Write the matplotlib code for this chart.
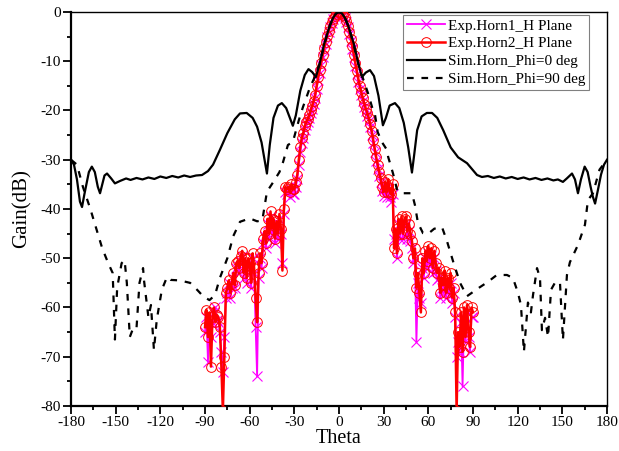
import numpy as np
import matplotlib
matplotlib.use("Agg")
import matplotlib.pyplot as plt
from matplotlib.ticker import MultipleLocator

plt.rcParams['font.family'] = ['Liberation Serif', 'DejaVu Serif']
plt.rcParams['axes.unicode_minus'] = False

# ---------------- data ----------------
exp_theta = list(range(-90, 91))

horn2_gain = [
    -64, -60.5, -66, -61, -72, -62, -60, -63, -61.5, -62,
    -64, -72, -81, -70, -57, -56, -54.5, -57, -55, -53,
    -55.5, -51, -50.5, -52, -49.5, -48.5, -53, -50, -54, -50,
    -51, -55, -49, -52, -58, -63, -53, -49, -51, -46,
    -44.5, -47, -42, -45, -40.5, -44, -42, -46, -42.5, -45,
    -41, -44, -52.5, -40, -35.5, -36, -35.5, -36.5, -35, -36,
    -36, -34.5, -33, -30, -27.5, -25.5, -24.5, -23.2, -22.3, -21.7,
    -21, -20, -19, -18, -16.8, -15, -13.2, -11.8, -10.3, -8.8,
    -7.4, -6, -4.8, -3.8, -2.9, -2.1, -1.4, -0.8, -0.4, -0.1,
    0,
    -0.1, -0.3, -0.7, -1.1, -1.8, -2.8, -4, -5.4, -7, -8.7,
    -10.4, -12, -13.6, -15, -16.3, -17.5, -18.6, -19.6, -20.5, -21.5,
    -22.8, -24.2, -26, -27.8, -29.5, -31, -32.5, -33.8, -35.5, -36.5,
    -34.5, -36.5, -34, -36.5, -37, -35, -48, -44, -49, -42,
    -45, -41.5, -45, -42, -41.5, -44.5, -43, -45, -46.5, -50,
    -48, -56, -53, -57, -61, -50, -53, -48.5, -50.5, -47.5,
    -50, -48, -52, -48.5, -51, -53, -52, -57, -54, -55.5,
    -52.5, -57, -54, -56, -53, -58, -56, -61, -81, -65,
    -68, -61, -69, -60, -66, -59.5, -65, -68, -60, -61,
]

horn1_gain = [
    -65, -62, -71, -63, -66, -63, -61, -60, -62.5, -63,
    -65, -69, -73, -66, -58, -57, -55, -58, -56, -54,
    -56, -52, -51.5, -53, -50.5, -49.5, -54, -51, -55, -51,
    -52, -56, -50, -53, -64, -74, -54, -50, -52, -47,
    -45.5, -48, -43, -46, -41.5, -45, -43, -47, -43.5, -46,
    -42, -45, -51, -41, -36.5, -37, -36.5, -37.5, -36, -37,
    -37, -35.5, -34, -31, -28.5, -26.5, -25.5, -24, -23, -22.4,
    -21.6, -20.6, -19.6, -18.6, -17.4, -15.6, -13.8, -12.3, -10.8, -9.2,
    -7.8, -6.4, -5.1, -4.1, -3.1, -2.3, -1.5, -0.9, -0.5, -0.2,
    0,
    -0.2, -0.4, -0.8, -1.3, -2.1, -3.1, -4.4, -5.8, -7.5, -9.2,
    -11, -12.6, -14.2, -15.6, -16.9, -18.1, -19.2, -20.2, -21.1, -22.1,
    -23.4, -24.9, -26.7, -28.5, -30.2, -31.8, -33.3, -34.6, -36.3, -37.3,
    -35.5, -37.5, -35.5, -37.5, -38.5, -37, -46, -45, -50, -43,
    -46, -43, -46, -43.5, -43, -46, -44.5, -46.5, -48, -51,
    -50, -67, -55, -58, -59, -52, -54, -50, -52, -49,
    -51.5, -49.5, -53, -50, -52.5, -54.5, -54, -58, -56, -57,
    -55, -58, -56, -57.5, -55, -59, -57, -62, -70, -67,
    -69, -63, -76, -62, -67, -61, -66, -69, -62, -62,
]

sim0_theta = [
    -180, -178, -176, -174, -172.6, -171, -168, -166, -164, -162,
    -160.5, -159, -157.5, -155.8, -153, -150.5, -147, -143, -140, -136,
    -132, -128, -124, -120, -116, -112, -108, -104, -100, -96,
    -92, -88, -84.6, -80, -75, -70, -66.5, -62, -58, -55,
    -52, -50, -48.4, -46.5, -44, -41, -38.4, -35.5, -33, -31,
    -29, -26, -23, -20.5, -18, -15.5, -13, -10, -8, -6,
    -4, -2, 0, 2, 4, 6, 8, 10, 13, 15.4,
    18, 20.8, 23.5, 26.5, 29.5, 31.5, 34, 37.6, 40.5, 43.5,
    46.5, 49, 50.5, 52.5, 55.5, 59, 62.5, 66, 70, 75,
    80, 86, 92.7, 96, 100, 104, 108, 112, 116, 120,
    124, 128, 132, 136, 140, 144, 147, 150.4, 153, 156.5,
    158.5, 160.5, 162.5, 165, 167, 169, 170.5, 172, 174, 176,
    178, 180,
]
sim0_gain = [
    -30, -31, -34, -38.5, -39.6, -37, -32.5, -31.4, -32.5, -35.5,
    -36.8, -35, -33.2, -32.8, -33.8, -34.8, -34.3, -33.8, -34.1, -33.7,
    -34, -33.6, -33.9, -33.4, -33.7, -33.3, -33.6, -33.2, -33.5, -33.2,
    -33.1, -32.3, -31, -28, -24.6, -21.8, -20.6, -20.5, -21.5, -23.3,
    -26.5, -30, -32.8, -27, -21.5, -19, -18.5, -19.5, -21.5, -23.1,
    -21, -16, -12.8, -11.6, -12.2, -13.2, -10.5, -6.5, -4.5, -2.6,
    -1.2, -0.3, 0, -0.3, -1.2, -2.6, -4.5, -6.5, -10.5, -13.2,
    -12.3, -11.8, -13, -17, -23, -21.5, -19, -18.5, -19.5, -22.5,
    -27.5, -32.6, -29, -24, -21.2, -20.5, -20.5, -21.5, -24, -27.5,
    -29.5, -30.7, -33.1, -33.5, -33.3, -33.7, -33.4, -33.8, -33.5, -33.9,
    -33.6, -34, -33.7, -34.1, -33.8, -34.2, -34, -34.5, -33.8, -32.8,
    -34, -36.8, -34, -31.4, -32.5, -35.5, -37.5, -38.9, -36, -33,
    -31, -30,
]

sim90_theta = [
    -180, -176, -172, -167, -163, -159, -155, -152, -150.5, -149,
    -146, -144, -142.5, -140.5, -138, -136, -134, -131.6, -131, -128,
    -126.3, -124.3, -122.4, -119, -115.5, -113, -107, -100, -95, -91,
    -87, -83.3, -80, -75, -71, -66.5, -60, -55, -51.5, -48.4,
    -44.3, -40, -37.6, -34.3, -31, -27, -24.2, -19.6, -16, -13,
    -10, -8, -6, -4, -2, 0, 2, 4, 6, 8,
    10, 13, 16, 19.5, 22.2, 24.2, 26, 29, 32.2, 33,
    36.3, 38.9, 41, 45, 49, 51, 53, 56.4, 60, 64,
    69.2, 72.5, 76.6, 81.3, 86, 89.3, 94, 100, 106, 112.8,
    116.8, 120.2, 122.2, 124.2, 126.9, 128.9, 130.3, 133, 135, 136.3,
    138.4, 140.4, 142.4, 145, 148.4, 150.4, 153.1, 155.1, 160.5, 165.2,
    167.2, 170.6, 175, 180,
]
sim90_gain = [
    -30, -31, -35.5, -40, -44, -48, -51, -53, -66.5, -56,
    -51, -50.4, -55, -66, -64, -64.2, -55, -52, -54.4, -62,
    -59.5, -68.6, -62.5, -56.4, -53.8, -54.4, -54.5, -55, -56.5, -57.8,
    -58.5, -57.5, -54, -50, -45.5, -42.6, -41.9, -42.5, -42.3, -36.5,
    -34.6, -32.5, -30.5, -27, -26.4, -22, -19.3, -15.4, -13, -10.5,
    -6.8, -4.6, -2.7, -1.2, -0.3, 0, -0.3, -1.2, -2.7, -4.6,
    -6.8, -10.5, -13.4, -16.5, -19.3, -20.9, -24.4, -26.5, -28, -29.4,
    -32.8, -36, -36.8, -36.8, -36.8, -39.2, -42.8, -44.9, -45, -44,
    -43.7, -46.5, -50.6, -55, -57.7, -57, -56, -54.8, -53.4, -53.4,
    -54, -57, -59.5, -69, -59, -61, -57.5, -52, -54, -64.6,
    -62.1, -66, -56.4, -55, -54.8, -66.6, -53.4, -50.8, -47.3, -43.2,
    -38.2, -36.8, -32, -30,
]

labels = ["Exp.Horn1_H Plane", "Exp.Horn2_H Plane",
          "Sim.Horn_Phi=0 deg", "Sim.Horn_Phi=90 deg"]

# ---------------- plot ----------------
fig = plt.figure(figsize=(6.19, 4.51), dpi=100)
ax = fig.add_axes([0.1147, 0.0998, 0.8659, 0.8736])

ax.plot(exp_theta, horn1_gain, color='#ff00ff', lw=1.3, marker='x',
        ms=7, mew=0.8, label=labels[0], zorder=2)
ax.plot(exp_theta, horn2_gain, color='#ff0000', lw=1.8, marker='o',
        ms=7, mfc='none', mew=0.7, label=labels[1], zorder=3)
ax.plot(sim0_theta, sim0_gain, color='black', lw=1.6, label=labels[2], zorder=4)
ax.plot(sim90_theta, sim90_gain, color='black', lw=1.6, ls=(0, (3, 3.5)),
        label=labels[3], zorder=4)

ax.set_xlim(-180, 180)
ax.set_ylim(-80, 0)
ax.xaxis.set_major_locator(MultipleLocator(30))
ax.xaxis.set_minor_locator(MultipleLocator(15))
ax.yaxis.set_major_locator(MultipleLocator(10))
ax.yaxis.set_minor_locator(MultipleLocator(5))
ax.tick_params(which='both', direction='out', top=False, right=False,
               labelsize=11, width=1.3)
ax.tick_params(which='major', length=5.5, pad=2)
ax.tick_params(which='minor', length=3)
for s in ['left', 'bottom']:
    ax.spines[s].set_linewidth(1.6)
for s in ['top', 'right']:
    ax.spines[s].set_linewidth(1.0)

ax.set_xlabel("Theta", fontsize=14.5, labelpad=0)
ax.set_ylabel("Gain(dB)", fontsize=15, labelpad=6)

leg = ax.legend(loc='upper right', bbox_to_anchor=(0.9664, 0.9924),
                fontsize=11, frameon=True, fancybox=False, edgecolor='#808080',
                framealpha=1, handlelength=2.5, handletextpad=0.2,
                labelspacing=0.28, borderpad=0.25, borderaxespad=0.0)
leg.get_frame().set_linewidth(0.8)

fig.savefig("out.png", dpi=100)
